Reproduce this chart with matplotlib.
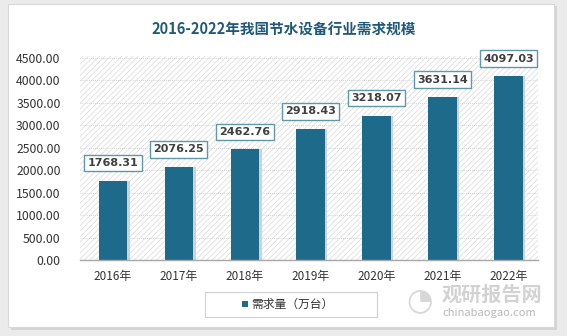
import matplotlib
matplotlib.use("Agg")
import matplotlib.pyplot as plt
from matplotlib.patches import Rectangle

plt.rcParams['font.family'] = ['Noto Sans CJK SC', 'DejaVu Sans']
plt.rcParams['hatch.linewidth'] = 0.5

years = ["2016年", "2017年", "2018年", "2019年", "2020年", "2021年", "2022年"]
values = [1768.31, 2076.25, 2462.76, 2918.43, 3218.07, 3631.14, 4097.03]
yticks = [0, 500, 1000, 1500, 2000, 2500, 3000, 3500, 4000, 4500]
series_name = "需求量（万台）"
title = "2016-2022年我国节水设备行业需求规模"

W, H = 567, 336
fig = plt.figure(figsize=(W / 100, H / 100), dpi=100)
fig.patch.set_facecolor("#ebebeb")

# white panel with shadow
fig.patches.append(Rectangle((11 / W, 1 - 330 / H), 546 / W, 324 / H, transform=fig.transFigure,
                             facecolor="#d5d5d5", edgecolor="none", zorder=-2))
fig.patches.append(Rectangle((8 / W, 1 - 327 / H), 546 / W, 323 / H, transform=fig.transFigure,
                             facecolor="white", edgecolor="#d8d8d8", lw=0.8, zorder=-1))

ax = fig.add_axes([80 / W, 1 - 260 / H, (538 - 80) / W, (260 - 56) / H])
ax.set_zorder(1)
ax.set_facecolor("none")
ax.set_xlim(-0.5, 6.45)
ax.set_ylim(0, 4500 * 204 / 202)

# hatched background
ax.add_patch(Rectangle((0, 0), 1, 1, transform=ax.transAxes, facecolor="white",
                       edgecolor="#dadada", hatch="//////", lw=0, zorder=0))

for t in yticks[1:]:
    ax.axhline(t, color="#c8c8c8", lw=0.6, ls=(0, (1, 1.5)), zorder=0.5)

x = list(range(len(years)))
# shadows
ax.bar([i + 0.04 for i in x], values, width=0.43, color="#c9d3d8", zorder=1)
bars = ax.bar(x, values, width=0.43, color="#1d6a8a", zorder=2)

for i, v in zip(x, values):
    ax.annotate(f"{v:.2f}", (i, v), xytext=(0, 9), textcoords="offset points",
                ha="center", va="bottom", fontsize=8, fontweight="bold", color="#404040",
                family=['DejaVu Sans'],
                bbox=dict(boxstyle="square,pad=0.3", facecolor="white", edgecolor="#5f98ad", lw=1.0),
                zorder=5)

ax.set_yticks(yticks)
ax.set_yticklabels([f"{t:.2f}" for t in yticks], fontsize=8.8, color="#333333")
ax.set_xticks(x)
ax.set_xticklabels(years, fontsize=8.5, color="#333333")
ax.tick_params(axis="both", length=0)
ax.tick_params(axis="y", pad=14)
ax.tick_params(axis="x", pad=7)
for s in ["top", "right", "left"]:
    ax.spines[s].set_visible(False)
ax.spines["bottom"].set_color("#a8a8a8")
ax.spines["bottom"].set_linewidth(1.0)

fig.text(0.5, 1 - 30 / H, title, ha="center", va="center", fontsize=10.5,
         fontweight="bold", color="#1f5a7a")

# legend
fig.patches.append(Rectangle((205 / W, 1 - 317 / H), 172 / W, 25 / H, transform=fig.transFigure,
                             facecolor="white", edgecolor="#d0d0d0", lw=0.8, zorder=3))
fig.patches.append(Rectangle((242 / W, 1 - 307 / H), 6 / W, 6 / H, transform=fig.transFigure,
                             facecolor="#1d6a8a", edgecolor="none", zorder=4))
fig.text(251 / W, 1 - 304 / H, series_name, ha="left", va="center", fontsize=8.5,
         color="#333333", zorder=5)

# watermark
fig.text(492 / W, 1 - 294 / H, "观研报告网", ha="center", va="center", fontsize=14.5,
         fontweight="bold", color="#c4c4c4", alpha=0.75, zorder=6)
fig.text(489 / W, 1 - 313 / H, "chinabaogao.com", ha="center", va="center", fontsize=8,
         color="#b8b8b8", zorder=6)
fig.text(420 / W, 1 - 301 / H, "◔", ha="center", va="center", fontsize=22,
         color="#c8c8c8", alpha=0.7, family=['DejaVu Sans'], zorder=6)

fig.savefig("out.png", dpi=100, facecolor=fig.get_facecolor())
